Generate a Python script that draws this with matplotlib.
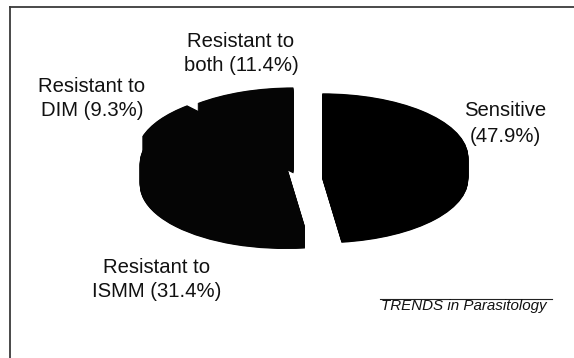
import matplotlib
matplotlib.use("Agg")
import matplotlib.pyplot as plt
from matplotlib.lines import Line2D
import numpy as np

# ---- data ----
categories = ["Sensitive", "Resistant to ISMM", "Resistant to DIM", "Resistant to both"]
shares = [47.9, 31.4, 9.3, 11.4]
label_texts = ["Sensitive\n(47.9%)",
               "Resistant to\nISMM (31.4%)",
               "Resistant to\nDIM (9.3%)",
               "Resistant to\nboth (11.4%)"]
explode = [0.16, 0.12, 0.13, 0.11]
colors = ["#000000", "#050505", "#050505", "#050505"]

W, H = 574, 358
fig = plt.figure(figsize=(W / 100, H / 100), dpi=100)
plt.rcParams['font.family'] = ['Liberation Sans', 'DejaVu Sans']

def fx(x):
    return x / W

def fy(y):
    return 1 - y / H

# pie geometry (pixels): ellipse semi-axes a, b, depth d, centre (cx, cy)
a, b, d = 146.0, 64.0, 22.0
cx, cy = 299.0, 158.0

ax = fig.add_axes([0, 0, 1, 1])
n_layers = 45
for off in np.linspace(d / b, 0, n_layers):
    ax.pie(shares, explode=explode, colors=colors, startangle=90,
           counterclock=False, center=(0, -off),
           wedgeprops=dict(linewidth=0, antialiased=True))
ax.set_aspect('auto')
ax.set_xlim(-cx / a, (W - cx) / a)
ax.set_ylim(-(H - cy) / b, cy / b)
ax.axis('off')

# labels: (center x, first-line baseline y, line gap) in pixels
label_pos = [(505, 116, 26), (157, 273, 24), (92, 92, 24), (241, 47, 24)]
for txt, (x, y0, gap) in zip(label_texts, label_pos):
    for i, line in enumerate(txt.split("\n")):
        fig.text(fx(x), fy(y0 + i * gap), line, ha='center', va='baseline',
                 fontsize=14.6, color='#111111')

# frame lines
fig.add_artist(Line2D([fx(10), fx(10)], [fy(6.5), fy(H + 2)], color='#3a3a3a', lw=1.3))
fig.add_artist(Line2D([fx(10), fx(W + 2)], [fy(6.5), fy(6.5)], color='#3a3a3a', lw=1.3))

# journal credit
fig.add_artist(Line2D([fx(380), fx(552)], [fy(299), fy(299)], color='#222222', lw=0.8))
fig.text(fx(464), fy(310), "TRENDS in Parasitology", ha='center', va='baseline',
         fontsize=10.9, style='italic', color='#111111')

fig.savefig("out.png", dpi=100)
